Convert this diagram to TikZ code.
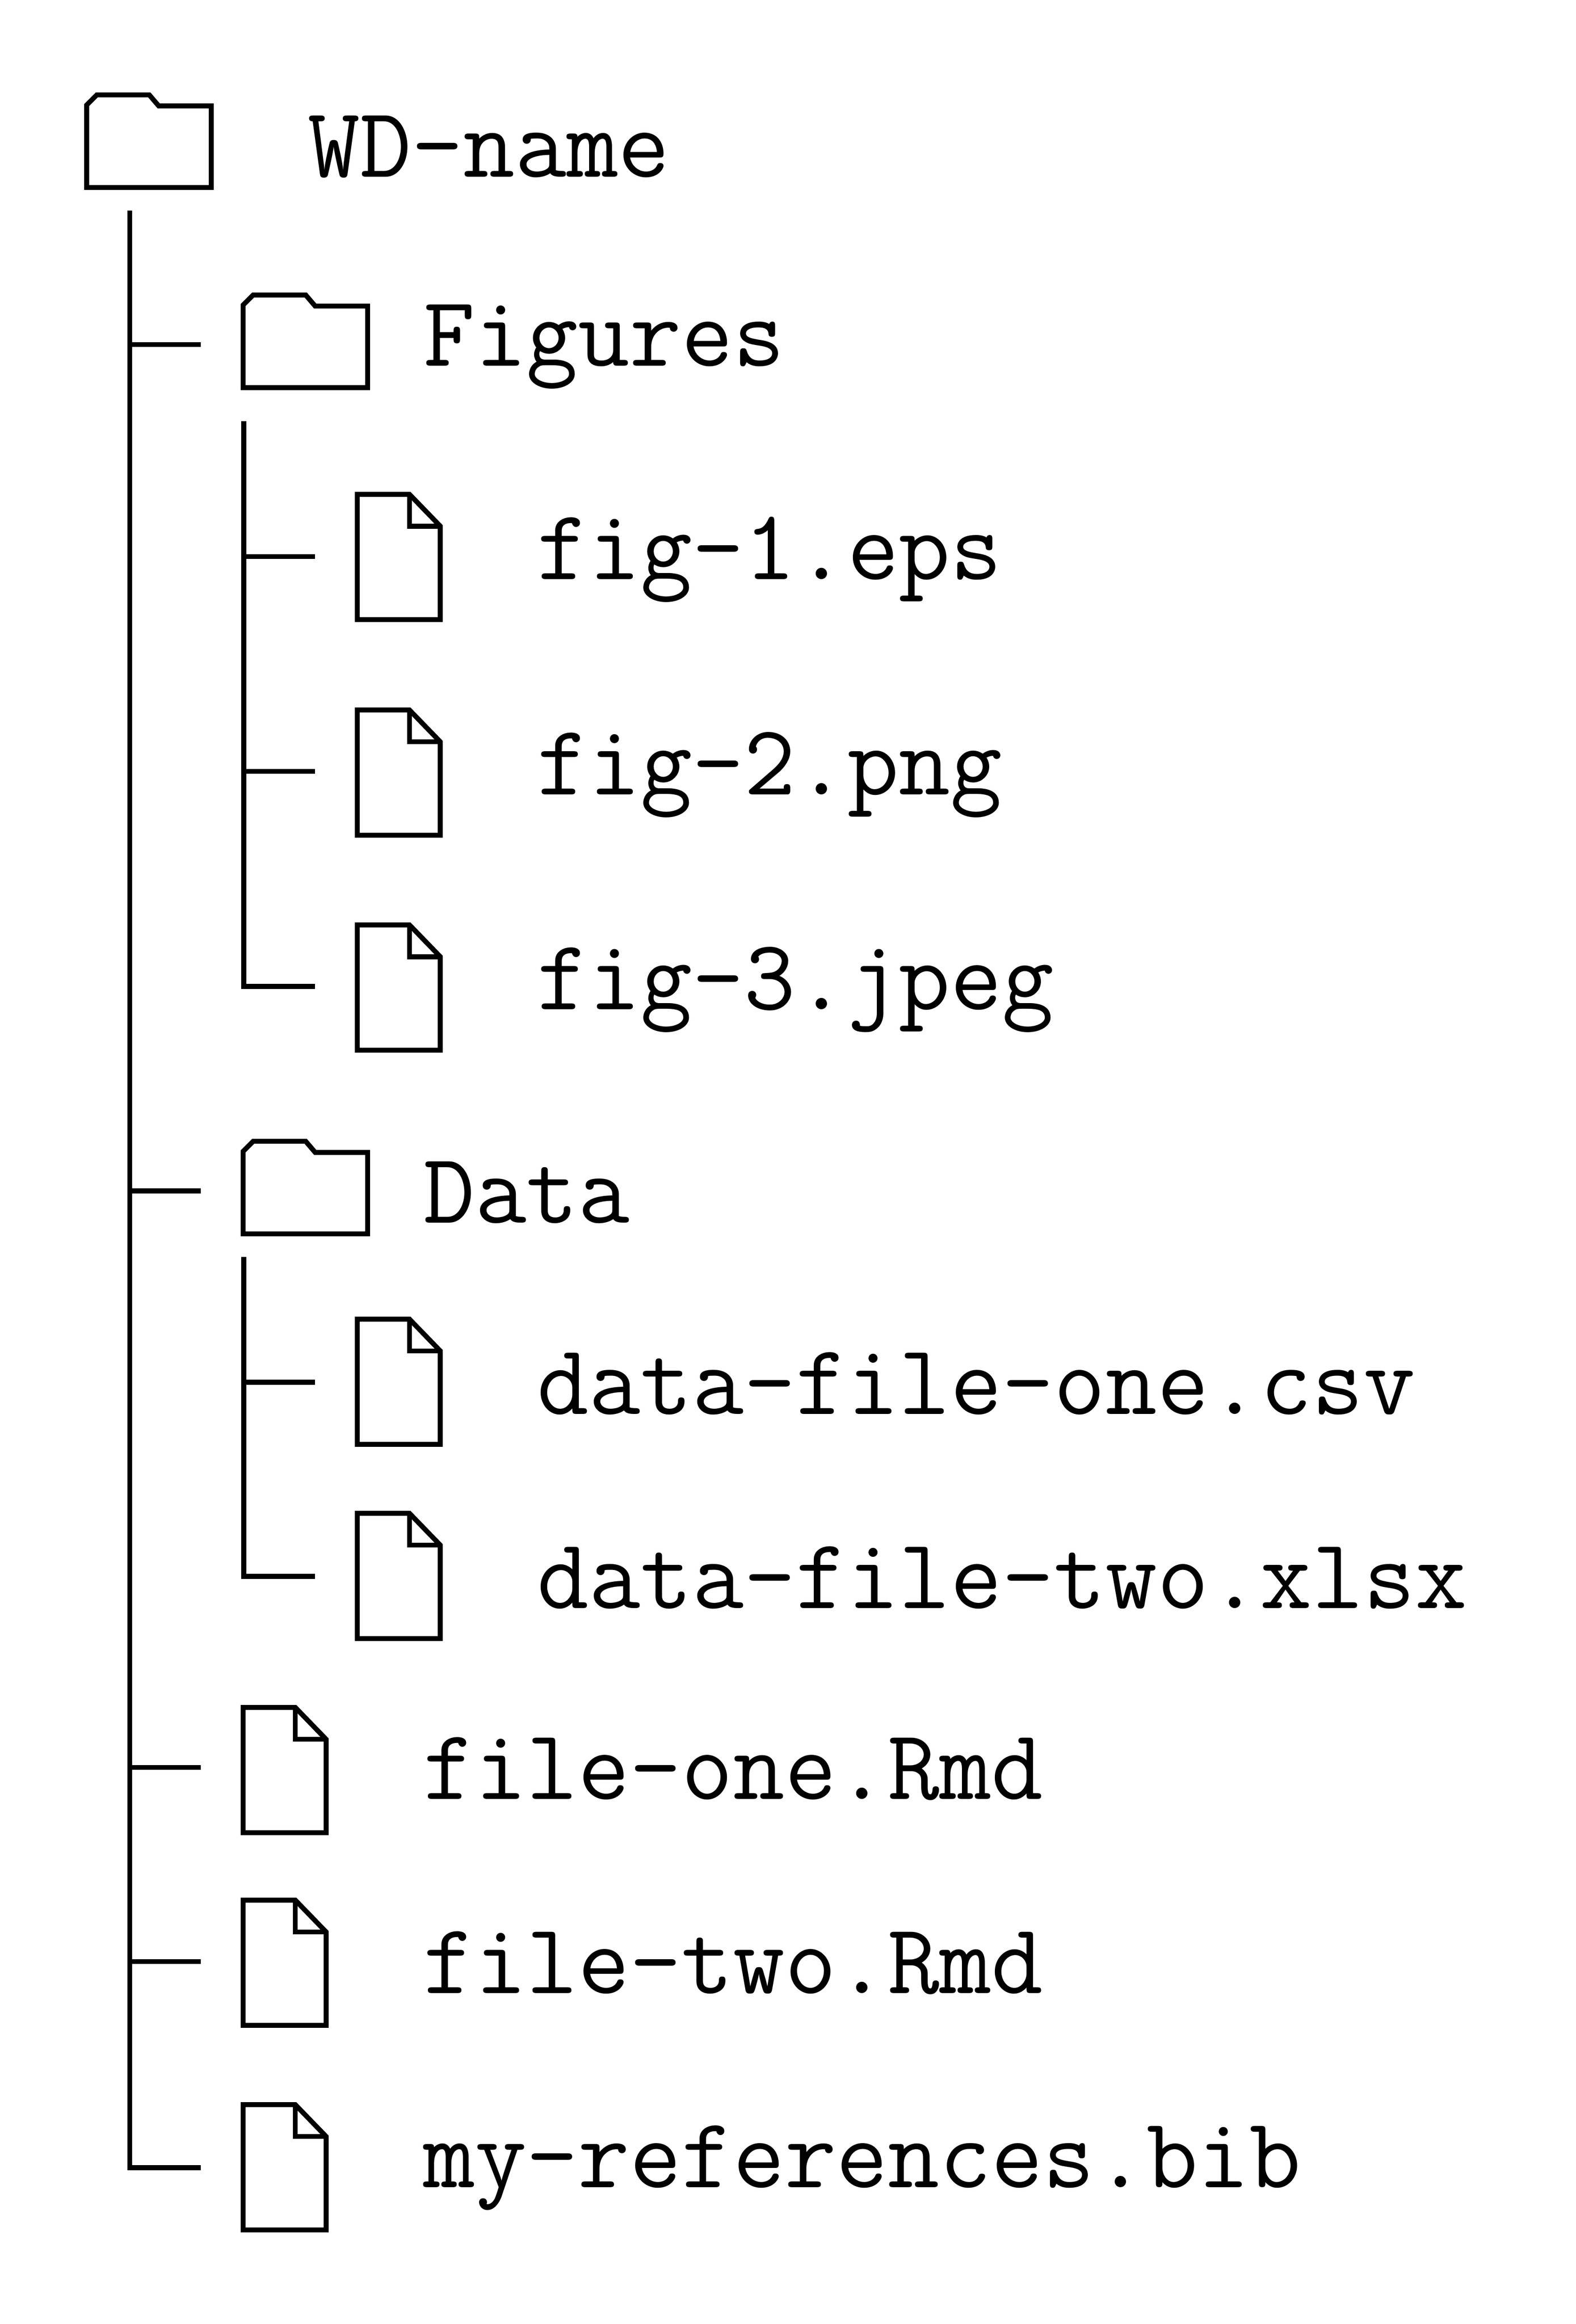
\documentclass[tikz,border=0pt]{standalone}
\usepackage{fontspec}
\begin{document}
\begin{tikzpicture}[x=0.3153pt,y=-0.3153pt,
  line/.style={line width=1.05pt,black,line cap=butt,line join=miter},
  label/.style={anchor=base west,inner sep=0pt,outer sep=0pt,font=\ttfamily\fontsize{21.33pt}{24pt}\selectfont},
  foldericon/.pic={
    \draw[line] (0,0) -- (84,0) -- (84,-55) -- (48.6,-55) -- (42.2,-62.5) -- (6.8,-62.5) -- (0,-55.7) -- cycle;
  },
  fileicon/.pic={
    \draw[line] (0,0) -- (56,0) -- (56,-63) -- (35.2,-84.5) -- (0,-84.5) -- cycle;
    \draw[line] (35.2,-84.5) -- (35.2,-63) -- (56,-63);
  }]
\useasboundingbox (0,0) rectangle (1063.1,1568);
% icons
\pic at (58.5,126.5) {foldericon};
\pic at (164,261.5) {foldericon};
\pic at (164,832.5) {foldericon};
\pic at (241,418) {fileicon};
\pic at (241,563.5) {fileicon};
\pic at (241,708.5) {fileicon};
\pic at (241,974.5) {fileicon};
\pic at (241,1105.5) {fileicon};
\pic at (164,1236.5) {fileicon};
\pic at (164,1366.5) {fileicon};
\pic at (164,1504.5) {fileicon};
% labels
\node[label] (wd) at (208,119.5) {WD-name};
\node[label] (figures) at (285.5,247) {Figures};
\node[label] (f1) at (362.5,391) {fig-1.eps};
\node[label] (f2) at (362.5,536) {fig-2.png};
\node[label] (f3) at (362.5,681) {fig-3.jpeg};
\node[label] (data) at (285.5,825) {Data};
\node[label] (d1) at (362.5,954) {data-file-one.csv};
\node[label] (d2) at (362.5,1085) {data-file-two.xlsx};
\node[label] (r1) at (285.5,1214) {file-one.Rmd};
\node[label] (r2) at (285.5,1345) {file-two.Rmd};
\node[label] (bib) at (285.5,1476) {my-references.bib};
% tree coordinates
\coordinate (t0) at (87.5,142);
\coordinate (c0) at (87.5,1462.5);
\coordinate (e0) at (135.5,1462.5);
\coordinate (c1) at (87.5,232.5);   \coordinate (e1) at (135.5,232.5);
\coordinate (c2) at (87.5,803.5);   \coordinate (e2) at (135.5,803.5);
\coordinate (c3) at (87.5,1192.5);  \coordinate (e3) at (135.5,1192.5);
\coordinate (c4) at (87.5,1323.5);  \coordinate (e4) at (135.5,1323.5);
\coordinate (t1) at (164.5,284);
\coordinate (b1) at (164.5,665.5);  \coordinate (g3) at (212.5,665.5);
\coordinate (b11) at (164.5,375.5); \coordinate (g1) at (212.5,375.5);
\coordinate (b12) at (164.5,520.5); \coordinate (g2) at (212.5,520.5);
\coordinate (t2) at (164.5,848);
\coordinate (b2) at (164.5,1063.5); \coordinate (h2) at (212.5,1063.5);
\coordinate (b21) at (164.5,932.5); \coordinate (h1) at (212.5,932.5);
% connectors
\draw[line] (t0) -- (c0) -- (e0);
\draw[line] (c1) -- (e1);
\draw[line] (c2) -- (e2);
\draw[line] (c3) -- (e3);
\draw[line] (c4) -- (e4);
\draw[line] (t1) -- (b1) -- (g3);
\draw[line] (b11) -- (g1);
\draw[line] (b12) -- (g2);
\draw[line] (t2) -- (b2) -- (h2);
\draw[line] (b21) -- (h1);
\end{tikzpicture}
\end{document}
